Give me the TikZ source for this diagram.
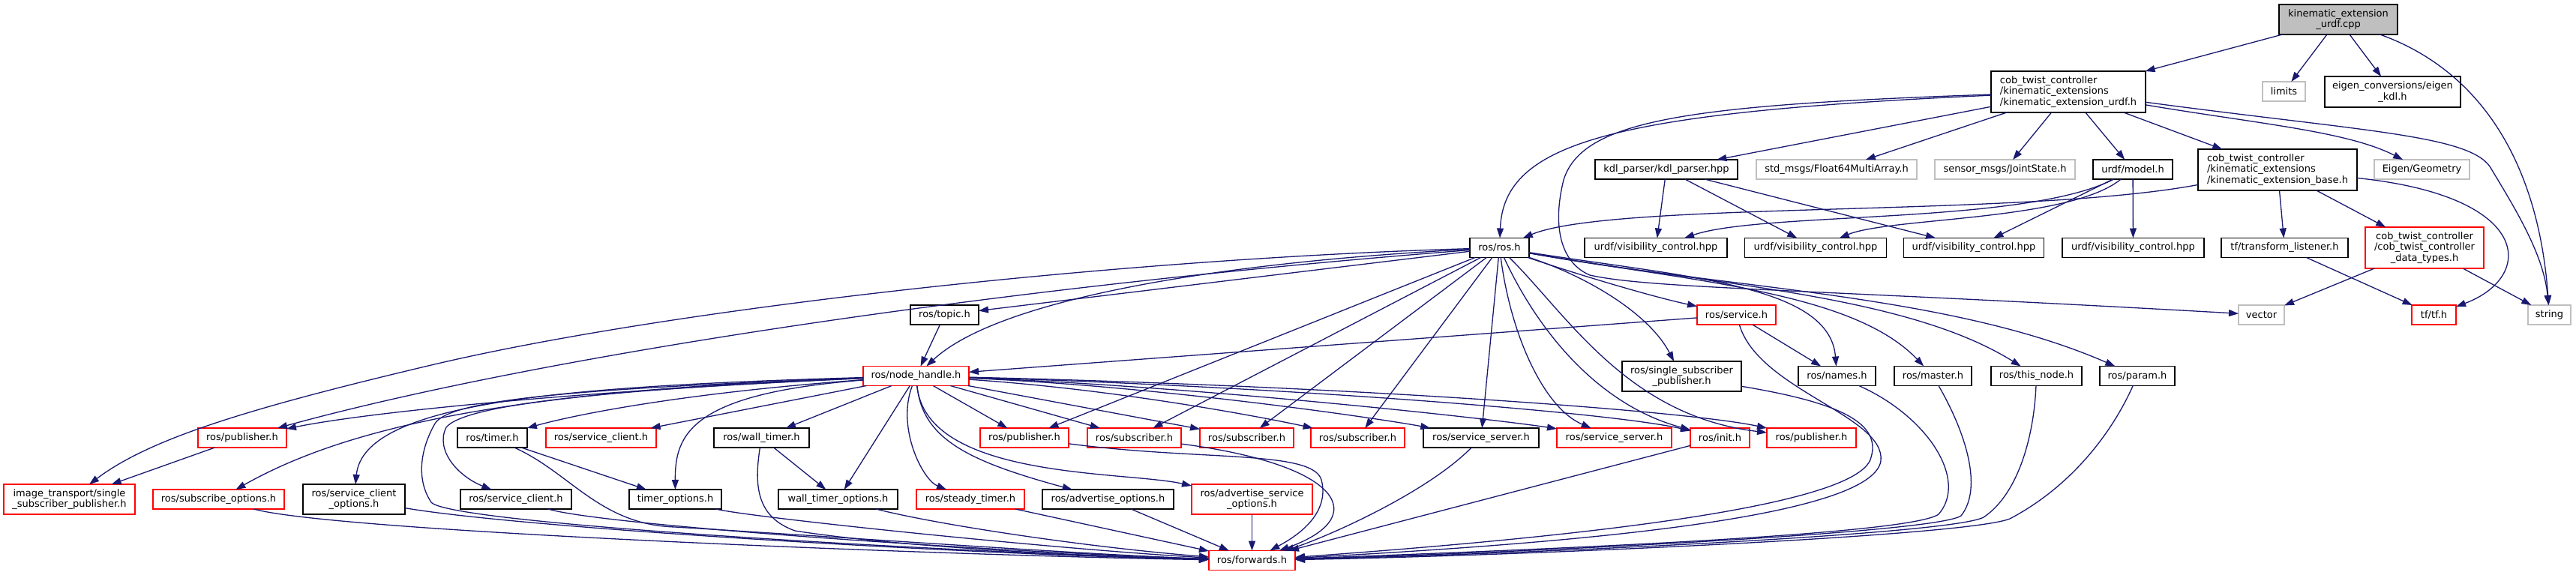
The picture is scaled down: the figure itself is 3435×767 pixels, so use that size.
\documentclass[tikz,border=0pt]{standalone}
\usepackage{fontspec}
\setmainfont{DejaVu Sans}
\usetikzlibrary{arrows.meta}
\definecolor{edgec}{RGB}{25,25,112}
\definecolor{grey75}{RGB}{191,191,191}
\begin{document}
\begin{tikzpicture}[x=1pt,y=-1pt,
  every node/.style={inner sep=0pt, outer sep=0pt, font=\fontsize{13pt}{14.5pt}\selectfont, align=center, text=black},
  nb/.style={draw=black, fill=white, line width=1.3pt},
  ng/.style={draw=grey75, fill=white, line width=1.3pt},
  nr/.style={draw=red, fill=white, line width=1.3pt},
  nroot/.style={draw=black, fill=grey75, line width=1.3pt},
  sz/.style 2 args={minimum width=#1pt, minimum height=#2pt},
  e/.style={draw=edgec, line width=1.3pt, -{Triangle[length=13pt,width=9pt]}}
]
\fill[white] (0,0) rectangle (3435,767);
\useasboundingbox (0,0) rectangle (3435,767);

% row 0
\node[nroot, sz={158}{40}] (cpp) at (3118,26) {kinematic\_extension\\\_urdf.cpp};
% row 1
\node[nb, sz={206}{55}, align=left] (urdfh) at (2758,122.5) {cob\_twist\_controller\\/kinematic\_extensions\\/kinematic\_extension\_urdf.h};
\node[ng, sz={57}{26}] (limits) at (3045.5,122) {limits};
\node[nb, sz={181}{41}] (eigenkdl) at (3190.5,122.5) {eigen\_conversions/eigen\\\_kdl.h};
% row 2
\node[nb, sz={190}{26}] (kdl) at (2222,226) {kdl\_parser/kdl\_parser.hpp};
\node[ng, sz={214}{26}] (stdmsgs) at (2449,226) {std\_msgs/Float64MultiArray.h};
\node[ng, sz={187}{26}] (sensor) at (2673.5,226) {sensor\_msgs/JointState.h};
\node[nb, sz={106}{26}] (model) at (2844,226) {urdf/model.h};
\node[nb, sz={212}{55}, align=left] (base) at (3037,226.5) {cob\_twist\_controller\\/kinematic\_extensions\\/kinematic\_extension\_base.h};
\node[ng, sz={127}{26}] (eigengeo) at (3229.5,226) {Eigen/Geometry};
% row 3
\node[nb, sz={79}{26}] (ros) at (1999.5,330.5) {ros/ros.h};
\node[nb, sz={190}{26}] (vis1) at (2208,330.5) {urdf/visibility\_control.hpp};
\node[nb, sz={189}{26}] (vis2) at (2421,330.5) {urdf/visibility\_control.hpp};
\node[nb, sz={187}{26}] (vis3) at (2632,330.5) {urdf/visibility\_control.hpp};
\node[nb, sz={189}{26}] (vis4) at (2844.5,330.5) {urdf/visibility\_control.hpp};
\node[nb, sz={169}{26}] (tfl) at (3046.5,330.5) {tf/transform\_listener.h};
\node[nr, sz={158}{55}] (dtypes) at (3233,330.5) {cob\_twist\_controller\\/cob\_twist\_controller\\\_data\_types.h};
% row 4
\node[nb, sz={91}{26}] (topic) at (1259.5,420) {ros/topic.h};
\node[nr, sz={105}{26}] (service) at (2315.5,420) {ros/service.h};
\node[ng, sz={61}{26}] (vector) at (3015.5,420) {vector};
\node[nr, sz={59}{26}] (tftf) at (3245.5,420) {tf/tf.h};
\node[ng, sz={57}{26}] (string) at (3399.5,420) {string};
% row 5
\node[nr, sz={141}{26}] (nh) at (1221.5,501.5) {ros/node\_handle.h};
\node[nb, sz={159}{40}] (ssp) at (2242.5,502) {ros/single\_subscriber\\\_publisher.h};
\node[nb, sz={103}{26}] (names) at (2449.5,501.5) {ros/names.h};
\node[nb, sz={103}{26}] (master) at (2577.5,501.5) {ros/master.h};
\node[nb, sz={121}{26}] (thisnode) at (2715.5,501.5) {ros/this\_node.h};
\node[nb, sz={100}{26}] (param) at (2850,501.5) {ros/param.h};
% row 6
\node[nr, sz={118}{26}] (pubL) at (323,584) {ros/publisher.h};
\node[nb, sz={93}{26}] (timer) at (656.5,584) {ros/timer.h};
\node[nr, sz={147}{26}] (sclR) at (801.5,584) {ros/service\_client.h};
\node[nb, sz={127}{26}] (wtimer) at (1015.5,584) {ros/wall\_timer.h};
\node[nr, sz={118}{26}] (pubM) at (1366,584) {ros/publisher.h};
\node[nr, sz={125}{26}] (sub1) at (1512.5,584) {ros/subscriber.h};
\node[nr, sz={125}{26}] (sub2) at (1662.5,584) {ros/subscriber.h};
\node[nr, sz={125}{26}] (sub3) at (1810.5,584) {ros/subscriber.h};
\node[nb, sz={154}{26}] (ssB) at (1975,584) {ros/service\_server.h};
\node[nr, sz={153}{26}] (ssR) at (2152.5,584) {ros/service\_server.h};
\node[nr, sz={79}{26}] (init) at (2293.5,584) {ros/init.h};
\node[nr, sz={119}{26}] (pubR) at (2415.5,584) {ros/publisher.h};
% row 7
\node[nr, sz={175}{40}] (itssp) at (92.5,666) {image\_transport/single\\\_subscriber\_publisher.h};
\node[nr, sz={175}{26}] (subopt) at (291.5,666) {ros/subscribe\_options.h};
\node[nb, sz={136}{40}] (scopt) at (472,666) {ros/service\_client\\\_options.h};
\node[nb, sz={148}{26}] (sclB) at (688,666) {ros/service\_client.h};
\node[nb, sz={123}{26}] (topt) at (900.5,666) {timer\_options.h};
\node[nb, sz={159}{26}] (wtopt) at (1117.5,666) {wall\_timer\_options.h};
\node[nr, sz={144}{26}] (steady) at (1294,666) {ros/steady\_timer.h};
\node[nb, sz={175}{26}] (advopt) at (1477.5,666) {ros/advertise\_options.h};
\node[nr, sz={161}{40}] (advsrv) at (1669.5,666) {ros/advertise\_service\\\_options.h};
% row 8
\node[nr, sz={115}{26}] (fwd) at (1669.5,747.5) {ros/forwards.h};

% ---- edges from the root
\draw[e] (cpp) -- (urdfh);
\draw[e] (cpp) -- (limits);
\draw[e] (cpp) -- (eigenkdl);
\draw[e] (cpp) .. controls (3310,95) and (3385,220) .. (string);
% ---- kinematic_extension_urdf.h
\draw[e] (urdfh) .. controls (2150,150) and (2005,190) .. (ros);
\draw[e] (urdfh) .. controls (2250,140) and (2110,160) .. (2085,240) .. controls (2070,300) and (2080,350) .. (2120,367) .. controls (2200,385) and (2400,385) .. (vector);
\draw[e] (urdfh) -- (kdl);
\draw[e] (urdfh) -- (stdmsgs);
\draw[e] (urdfh) -- (sensor);
\draw[e] (urdfh) -- (model);
\draw[e] (urdfh) -- (base);
\draw[e] (urdfh) .. controls (3010,165) and (3130,175) .. (eigengeo);
\draw[e] (urdfh) .. controls (3150,175) and (3290,180) .. (3320,222) .. controls (3355,280) and (3392,340) .. (string);
% ---- kdl_parser, model
\draw[e] (kdl) -- (vis1);
\draw[e] (kdl) -- (vis2);
\draw[e] (kdl) -- (vis3);
\draw[e] (model) .. controls (2700,300) and (2350,282) .. (vis1);
\draw[e] (model) .. controls (2760,295) and (2520,290) .. (vis2);
\draw[e] (model) -- (vis3);
\draw[e] (model) -- (vis4);
% ---- kinematic_extension_base.h
\draw[e] (base) .. controls (2700,290) and (2150,268) .. (ros);
\draw[e] (base) -- (tfl);
\draw[e] (base) -- (dtypes);
\draw[e] (base) .. controls (3380,262) and (3380,370) .. (tftf);
\draw[e] (tfl) -- (tftf);
\draw[e] (dtypes) -- (vector);
\draw[e] (dtypes) -- (string);
% ---- ros/ros.h
\draw[e] (ros) -- (topic);
\draw[e] (ros) .. controls (1620,350) and (1330,400) .. (nh);
\draw[e] (ros) .. controls (1300,385) and (700,480) .. (pubL);
\draw[e] (ros) .. controls (1500,345) and (900,410) .. (575,487) .. controls (330,545) and (200,585) .. (itssp);
\draw[e] (ros) -- (pubM);
\draw[e] (ros) -- (sub1);
\draw[e] (ros) -- (sub2);
\draw[e] (ros) -- (sub3);
\draw[e] (ros) -- (ssB);
\draw[e] (ros) .. controls (2015,450) and (2060,545) .. (ssR);
\draw[e] (ros) .. controls (2050,440) and (2130,540) .. (init);
\draw[e] (ros) .. controls (2090,420) and (2170,555) .. (pubR);
\draw[e] (ros) .. controls (2120,370) and (2200,420) .. (ssp);
\draw[e] (ros) .. controls (2100,365) and (2200,395) .. (service);
\draw[e] (ros) .. controls (2250,370) and (2440,380) .. (names);
\draw[e] (ros) .. controls (2250,375) and (2470,388) .. (master);
\draw[e] (ros) .. controls (2280,380) and (2540,392) .. (thisnode);
\draw[e] (ros) .. controls (2300,385) and (2600,392) .. (param);
% ---- ros/service.h and friends
\draw[e] (service) -- (nh);
\draw[e] (service) -- (names);
\draw[e] (service) .. controls (2345,520) and (2515,555) .. (2508,615) .. controls (2495,695) and (2050,727) .. (fwd);
\draw[e] (ssp) .. controls (2440,535) and (2510,560) .. (2495,610) .. controls (2480,680) and (2050,720) .. (fwd);
\draw[e] (names) .. controls (2570,555) and (2625,640) .. (2585,686) .. controls (2545,715) and (2000,735) .. (fwd);
\draw[e] (master) .. controls (2620,575) and (2645,650) .. (2615,688) .. controls (2580,712) and (2000,738) .. (fwd);
\draw[e] (thisnode) .. controls (2712,585) and (2690,660) .. (2645,690) .. controls (2600,714) and (2000,740) .. (fwd);
\draw[e] (param) .. controls (2815,580) and (2760,650) .. (2680,692) .. controls (2620,716) and (2000,742) .. (fwd);
\draw[e] (init) -- (fwd);
\draw[e] (ssB) .. controls (1900,660) and (1760,720) .. (fwd);
\draw[e] (pubM) .. controls (1600,615) and (1750,600) .. (1762,640) .. controls (1775,690) and (1720,720) .. (fwd);
\draw[e] (sub1) .. controls (1790,620) and (1830,690) .. (fwd);
% ---- ros/topic.h
\draw[e] (topic) -- (nh);
% ---- ros/node_handle.h
\draw[e] (nh) .. controls (780,518) and (600,532) .. (580,565) .. controls (560,600) and (555,640) .. (575,670) .. controls (600,700) and (1300,738) .. (fwd);
\draw[e] (nh) .. controls (800,520) and (500,548) .. (pubL);
\draw[e] (nh) .. controls (700,520) and (470,565) .. (subopt);
\draw[e] (nh) .. controls (760,515) and (485,535) .. (scopt);
\draw[e] (nh) .. controls (800,520) and (620,540) .. (595,570) .. controls (580,600) and (610,635) .. (sclB);
\draw[e] (nh) .. controls (900,525) and (760,555) .. (timer);
\draw[e] (nh) -- (sclR);
\draw[e] (nh) .. controls (920,525) and (900,580) .. (topt);
\draw[e] (nh) -- (wtimer);
\draw[e] (nh) -- (wtopt);
\draw[e] (nh) .. controls (1195,570) and (1230,640) .. (steady);
\draw[e] (nh) .. controls (1230,585) and (1290,615) .. (advopt);
\draw[e] (nh) .. controls (1235,640) and (1500,628) .. (advsrv);
\draw[e] (nh) -- (pubM);
\draw[e] (nh) -- (sub1);
\draw[e] (nh) -- (sub2);
\draw[e] (nh) .. controls (1500,520) and (1700,560) .. (sub3);
\draw[e] (nh) .. controls (1550,515) and (1850,560) .. (ssB);
\draw[e] (nh) .. controls (1600,515) and (2000,560) .. (ssR);
\draw[e] (nh) .. controls (1700,515) and (2150,550) .. (init);
\draw[e] (nh) .. controls (1800,515) and (2250,548) .. (pubR);
% ---- lower left
\draw[e] (pubL) -- (itssp);
\draw[e] (timer) -- (topt);
\draw[e] (timer) .. controls (760,630) and (800,700) .. (900,703) .. controls (1100,715) and (1450,740) .. (fwd);
\draw[e] (wtimer) -- (wtopt);
\draw[e] (wtimer) .. controls (1005,650) and (1010,690) .. (1060,708) .. controls (1200,730) and (1450,742) .. (fwd);
\draw[e] (topt) .. controls (1000,690) and (1400,732) .. (fwd);
\draw[e] (wtopt) .. controls (1250,700) and (1450,730) .. (fwd);
\draw[e] (steady) -- (fwd);
\draw[e] (advopt) -- (fwd);
\draw[e] (advsrv) -- (fwd);
\draw[e] (sclB) .. controls (800,700) and (1300,735) .. (fwd);
\draw[e] (scopt) .. controls (700,705) and (1300,740) .. (fwd);
\draw[e] (subopt) .. controls (450,710) and (1300,742) .. (fwd);
\end{tikzpicture}
\end{document}
